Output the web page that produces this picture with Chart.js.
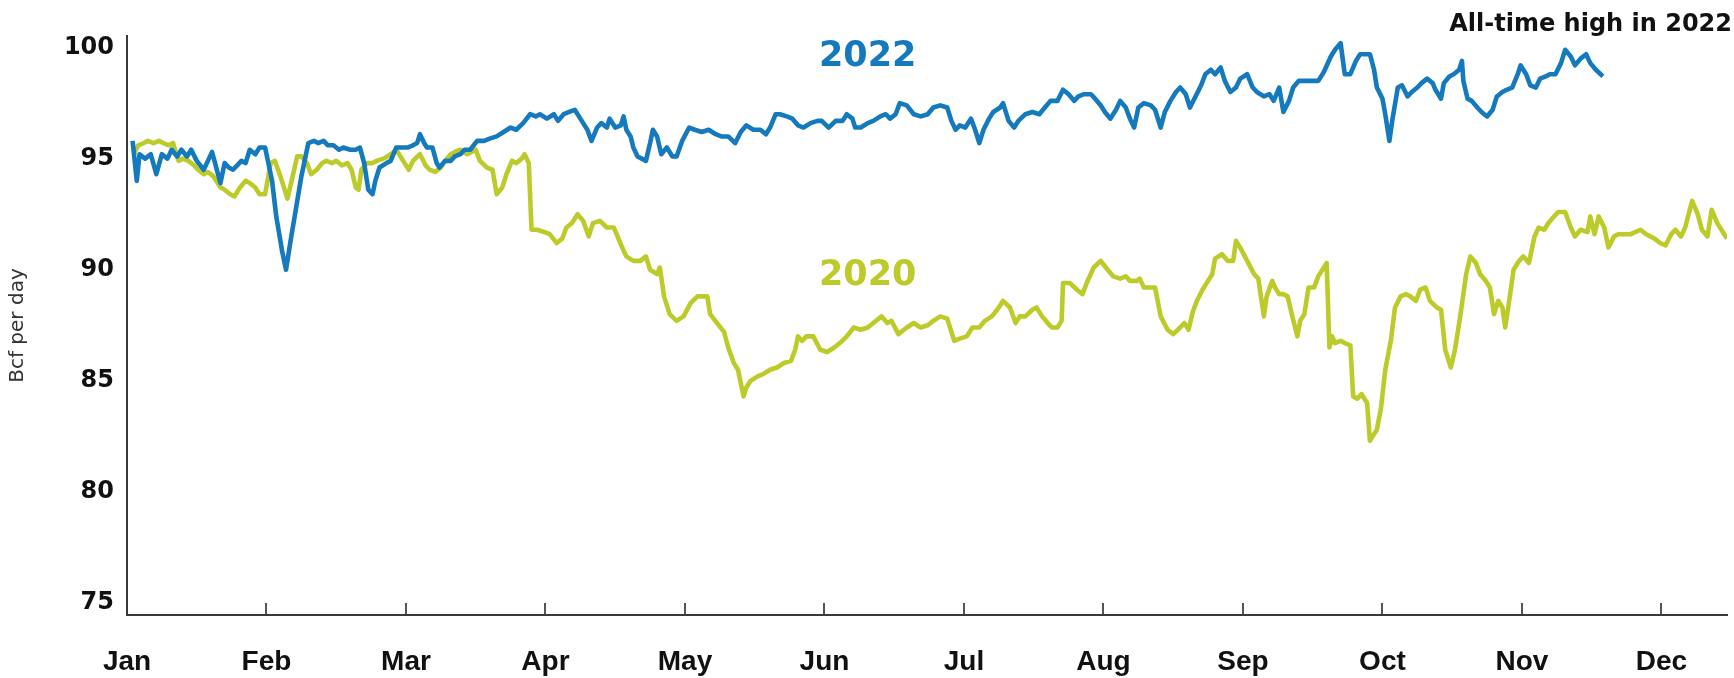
<!DOCTYPE html>
<html>
<head>
<meta charset="utf-8">
<title>Bcf per day, 2022 vs 2020</title>
<script src="https://cdn.jsdelivr.net/npm/chart.js"></script>
<style>
  html, body { margin: 0; padding: 0; background: #fff; overflow: hidden; }
  canvas { display: block; }
</style>
</head>
<body>
<canvas id="chart" width="1734" height="678"></canvas>
<script>
/* axis labels */
const MONTHS = ["Jan","Feb","Mar","Apr","May","Jun","Jul","Aug","Sep","Oct","Nov","Dec"];
const MONTH_TICKS = [0,1,2,3,4,5,6,7,8,9,10,11];
const Y_TICKS = [75,80,85,90,95,100];

/* 2022 series: position in months from Jan 1, value in Bcf/d */
const M22 = [0.04,0.07,0.09,0.13,0.17,0.21,0.25,0.29,0.32,0.36,0.39,0.43,0.46,0.50,0.55,0.58,0.61,0.64,0.67,0.70,
  0.73,0.76,0.79,0.82,0.85,0.88,0.92,0.95,0.99,1.04,1.07,1.11,1.14,1.17,1.21,1.25,1.30,1.34,1.37,1.41,
  1.44,1.48,1.52,1.55,1.60,1.64,1.67,1.70,1.73,1.76,1.78,1.81,1.86,1.89,1.93,1.97,2.01,2.05,2.08,2.10,
  2.13,2.15,2.19,2.22,2.24,2.28,2.32,2.35,2.39,2.42,2.46,2.51,2.56,2.60,2.65,2.70,2.75,2.79,2.84,2.89,
  2.93,2.96,3.01,3.06,3.09,3.13,3.17,3.21,3.25,3.30,3.33,3.37,3.40,3.44,3.46,3.50,3.54,3.56,3.58,3.61,
  3.63,3.66,3.69,3.72,3.75,3.77,3.80,3.83,3.87,3.91,3.94,3.98,4.03,4.07,4.12,4.17,4.22,4.26,4.31,4.36,
  4.40,4.44,4.49,4.54,4.58,4.61,4.65,4.68,4.73,4.77,4.81,4.85,4.90,4.95,4.98,5.03,5.08,5.13,5.16,5.20,
  5.22,5.26,5.31,5.35,5.40,5.44,5.47,5.51,5.54,5.59,5.64,5.69,5.74,5.78,5.83,5.88,5.91,5.94,5.97,6.01,
  6.05,6.08,6.11,6.14,6.18,6.21,6.26,6.28,6.32,6.36,6.39,6.44,6.49,6.54,6.58,6.62,6.67,6.71,6.75,6.79,
  6.82,6.86,6.91,6.94,6.98,7.01,7.05,7.09,7.12,7.16,7.19,7.22,7.25,7.29,7.34,7.37,7.41,7.44,7.48,7.52,
  7.55,7.59,7.62,7.66,7.70,7.73,7.77,7.80,7.84,7.87,7.91,7.95,7.98,8.03,8.07,8.10,8.15,8.19,8.22,8.26,
  8.29,8.33,8.36,8.40,8.45,8.50,8.54,8.58,8.63,8.66,8.70,8.73,8.77,8.81,8.84,8.88,8.91,8.94,8.96,9.00,
  9.02,9.05,9.07,9.11,9.14,9.18,9.21,9.25,9.28,9.32,9.36,9.38,9.42,9.44,9.48,9.51,9.55,9.57,9.58,9.61,
  9.64,9.68,9.71,9.75,9.79,9.82,9.86,9.89,9.93,9.97,9.99,10.03,10.06,10.10,10.13,10.17,10.20,10.24,10.28,10.31,
  10.35,10.38,10.42,10.46,10.49,10.53,10.58];
const V22 = [95.8,94.0,95.2,95.0,95.2,94.3,95.2,95.0,95.4,95.1,95.4,95.1,95.4,94.9,94.5,94.9,95.3,94.6,93.9,94.8,
  94.6,94.5,94.7,94.9,94.8,95.4,95.2,95.5,95.5,94.0,92.4,90.9,90.0,91.2,92.7,94.2,95.7,95.8,95.7,95.8,
  95.6,95.6,95.4,95.5,95.4,95.4,95.5,94.8,93.6,93.4,94.0,94.6,94.8,94.9,95.5,95.5,95.5,95.6,95.7,96.1,
  95.7,95.5,95.5,94.8,94.6,94.9,94.9,95.1,95.2,95.4,95.4,95.8,95.8,95.9,96.0,96.2,96.4,96.3,96.6,97.0,
  96.9,97.0,96.8,97.0,96.7,97.0,97.1,97.2,96.8,96.3,95.8,96.4,96.6,96.4,96.8,96.4,96.5,96.9,96.3,96.0,
  95.5,95.1,95.0,94.9,95.7,96.3,96.0,95.2,95.5,95.1,95.1,95.8,96.4,96.3,96.2,96.3,96.1,96.0,96.0,95.7,
  96.2,96.5,96.3,96.3,96.1,96.4,97.0,97.0,96.9,96.8,96.5,96.4,96.6,96.7,96.7,96.4,96.7,96.7,97.0,96.8,
  96.4,96.4,96.6,96.7,96.9,97.0,96.8,97.0,97.5,97.4,97.0,96.9,97.0,97.3,97.4,97.3,96.7,96.3,96.5,96.4,
  96.8,96.3,95.7,96.3,96.8,97.1,97.3,97.5,96.7,96.4,96.7,97.0,97.1,97.0,97.3,97.6,97.6,98.1,97.9,97.6,
  97.8,97.9,97.9,97.7,97.4,97.1,96.8,97.2,97.6,97.3,96.8,96.4,97.3,97.5,97.4,97.2,96.4,97.1,97.6,98.0,
  98.2,97.9,97.3,97.8,98.3,98.8,99.0,98.8,99.1,98.5,98.0,98.2,98.6,98.8,98.2,98.0,97.8,97.9,97.6,98.2,
  97.1,97.6,98.2,98.5,98.5,98.5,98.5,98.9,99.6,99.9,100.2,98.8,98.8,99.4,99.7,99.7,99.7,99.0,98.2,97.7,
  97.0,95.8,96.7,98.2,98.3,97.8,98.0,98.2,98.4,98.6,98.4,98.1,97.7,98.4,98.7,98.8,99.0,99.4,98.5,97.7,
  97.6,97.3,97.1,96.9,97.2,97.8,98.0,98.1,98.2,98.8,99.2,98.8,98.3,98.2,98.6,98.7,98.8,98.8,99.3,99.9,
  99.6,99.2,99.5,99.7,99.3,99.0,98.7];

/* 2020 series */
const M20 = [0.05,0.08,0.12,0.15,0.19,0.23,0.26,0.30,0.33,0.37,0.40,0.44,0.48,0.51,0.55,0.58,0.62,0.67,0.70,0.74,
  0.77,0.81,0.85,0.88,0.92,0.95,0.99,1.03,1.06,1.10,1.15,1.18,1.22,1.25,1.29,1.32,1.36,1.40,1.43,1.47,
  1.50,1.54,1.58,1.61,1.64,1.66,1.68,1.72,1.76,1.79,1.84,1.89,1.93,1.98,2.02,2.05,2.10,2.14,2.17,2.21,
  2.25,2.28,2.32,2.35,2.39,2.44,2.50,2.53,2.58,2.62,2.65,2.69,2.72,2.76,2.79,2.83,2.85,2.88,2.90,2.94,
  2.99,3.03,3.08,3.12,3.15,3.19,3.23,3.27,3.31,3.34,3.39,3.44,3.49,3.51,3.55,3.58,3.63,3.68,3.72,3.75,
  3.80,3.82,3.85,3.89,3.94,3.99,4.04,4.09,4.13,4.16,4.18,4.23,4.28,4.31,4.35,4.38,4.42,4.44,4.47,4.52,
  4.56,4.61,4.66,4.71,4.76,4.79,4.81,4.84,4.87,4.92,4.97,5.02,5.07,5.11,5.16,5.21,5.26,5.31,5.35,5.41,
  5.45,5.48,5.53,5.59,5.64,5.69,5.74,5.78,5.83,5.88,5.93,5.97,6.02,6.06,6.11,6.15,6.20,6.25,6.28,6.33,
  6.37,6.40,6.44,6.49,6.52,6.56,6.60,6.63,6.67,6.70,6.71,6.76,6.81,6.85,6.88,6.93,6.98,7.03,7.07,7.12,
  7.16,7.19,7.24,7.26,7.29,7.34,7.37,7.41,7.46,7.50,7.55,7.58,7.61,7.64,7.67,7.71,7.74,7.78,7.80,7.85,
  7.89,7.93,7.95,7.98,8.03,8.08,8.11,8.15,8.17,8.21,8.23,8.26,8.29,8.32,8.35,8.39,8.41,8.44,8.47,8.51,
  8.54,8.58,8.60,8.62,8.64,8.66,8.70,8.73,8.77,8.79,8.82,8.85,8.89,8.91,8.94,8.96,8.99,9.02,9.06,9.09,
  9.13,9.17,9.20,9.24,9.27,9.31,9.34,9.39,9.42,9.45,9.49,9.52,9.56,9.60,9.63,9.67,9.70,9.74,9.77,9.80,
  9.83,9.86,9.88,9.92,9.94,9.98,10.01,10.05,10.09,10.12,10.16,10.19,10.23,10.26,10.31,10.35,10.38,10.42,10.47,10.49,
  10.52,10.55,10.59,10.62,10.66,10.69,10.73,10.78,10.85,10.89,10.95,10.99,11.03,11.07,11.10,11.14,11.17,11.22,11.26,11.29,
  11.33,11.36,11.40,11.45,11.47];
const V20 = [95.2,95.6,95.7,95.8,95.7,95.8,95.7,95.6,95.7,94.9,95.0,94.9,94.7,94.5,94.3,94.4,94.2,93.7,93.6,93.4,
  93.3,93.7,94.0,93.9,93.7,93.4,93.4,94.8,94.9,94.2,93.2,94.0,95.1,95.1,94.8,94.3,94.5,94.8,94.9,94.8,
  94.9,94.7,94.8,94.5,93.7,93.6,94.5,94.8,94.8,94.9,95.0,95.2,95.4,94.9,94.5,94.9,95.2,94.7,94.5,94.4,
  94.6,94.9,95.2,95.3,95.4,95.2,95.4,94.9,94.6,94.5,93.4,93.7,94.3,94.9,94.8,95.0,95.2,94.8,91.8,91.8,
  91.7,91.6,91.2,91.4,91.9,92.1,92.5,92.2,91.5,92.1,92.2,91.9,91.9,91.6,91.0,90.6,90.4,90.4,90.6,90.0,
  89.8,90.1,88.8,88.0,87.7,87.9,88.5,88.8,88.8,88.8,88.0,87.6,87.2,86.5,85.8,85.5,84.3,84.7,85.0,85.2,
  85.3,85.5,85.6,85.8,85.9,86.4,87.0,86.8,87.0,87.0,86.4,86.3,86.5,86.7,87.0,87.4,87.3,87.4,87.6,87.9,
  87.6,87.7,87.1,87.4,87.6,87.4,87.5,87.7,87.9,87.8,86.8,86.9,87.0,87.4,87.4,87.7,87.9,88.3,88.6,88.3,
  87.6,87.9,87.9,88.2,88.3,87.9,87.6,87.4,87.4,87.7,89.4,89.4,89.1,88.9,89.4,90.1,90.4,90.0,89.7,89.6,
  89.7,89.5,89.5,89.6,89.2,89.2,89.2,87.9,87.3,87.1,87.4,87.6,87.3,88.1,88.6,89.1,89.4,89.8,90.5,90.7,
  90.4,90.4,91.3,91.0,90.4,89.8,89.6,87.9,88.8,89.5,89.2,88.9,88.9,88.8,88.0,87.0,87.7,88.0,89.2,89.2,
  89.7,90.1,90.3,86.5,87.0,86.7,86.8,86.7,86.6,84.3,84.2,84.4,84.0,82.3,82.6,82.8,83.8,85.5,86.8,88.3,
  88.8,88.9,88.8,88.6,89.1,89.2,88.6,88.3,88.2,86.4,85.6,86.4,88.0,89.8,90.6,90.3,89.8,89.5,89.2,88.0,
  88.6,88.3,87.4,89.1,90.0,90.4,90.6,90.3,91.5,91.9,91.8,92.1,92.4,92.6,92.6,91.9,91.5,91.8,91.7,92.4,
  91.6,92.4,91.9,91.0,91.5,91.6,91.6,91.6,91.8,91.6,91.4,91.2,91.1,91.6,91.8,91.5,91.9,93.1,92.5,91.8,
  91.5,92.7,92.1,91.6,91.4];

const BLUE = "#1479bd";
const LIME = "#bdcb2a";
const INK = "#111111";

/* helpers */
function points(xs, ys){ return xs.map((x, i) => ({ x: x, y: ys[i] })); }

/* series names and the headline, written on top of the plot */
const annotations = {
  id: "annotations",
  afterDatasetsDraw(chart){
    const { ctx, scales: { x, y } } = chart;
    ctx.save();
    ctx.textAlign = "center";
    ctx.textBaseline = "alphabetic";
    ctx.font = "bold 35px 'DejaVu Sans'";
    ctx.fillStyle = BLUE;
    ctx.fillText("2022", x.getPixelForValue(5.31), y.getPixelForValue(99.75) + 12.8);
    ctx.fillStyle = LIME;
    ctx.fillText("2020", x.getPixelForValue(5.31), y.getPixelForValue(89.9) + 12.8);
    ctx.textAlign = "right";
    ctx.font = "bold 24px 'DejaVu Sans'";
    ctx.fillStyle = INK;
    ctx.fillText("All-time high in 2022", chart.width - 2, 30.5);
    ctx.restore();
  }
};

new Chart(document.getElementById("chart"), {
  type: "line",
  data: {
    datasets: [
      { label: "2022", data: points(M22, V22), borderColor: BLUE, borderWidth: 4.6, borderJoinStyle: "round", pointRadius: 0, tension: 0 },
      { label: "2020", data: points(M20, V20), borderColor: LIME, borderWidth: 4.6, borderJoinStyle: "round", pointRadius: 0, tension: 0 }
    ]
  },
  options: {
    responsive: false,
    devicePixelRatio: 1,
    animation: false,
    layout: { padding: { top: 36, right: 7, bottom: 0, left: 0 } },
    plugins: { legend: { display: false }, tooltip: { enabled: false } },
    scales: {
      x: {
        type: "linear",
        min: 0,
        max: 11.47,
        afterBuildTicks: s => { s.ticks = MONTH_TICKS.map(v => ({ value: v })); },
        afterFit: s => { s.height = 63; },
        grid: { drawOnChartArea: false, drawTicks: true, tickLength: -12, color: "#555", lineWidth: 2 },
        border: { color: "#3a3a3a", width: 2 },
        ticks: {
          autoSkip: false, maxRotation: 0, padding: 42, color: INK,
          font: { family: "'Liberation Sans', Arial, sans-serif", size: 28, weight: "bold" },
          callback: v => MONTHS[v]
        }
      },
      y: {
        min: 74.46,
        max: 100.52,
        afterBuildTicks: s => { s.ticks = Y_TICKS.map(v => ({ value: v })); },
        afterFit: s => { s.width = 127; },
        grid: { display: false, drawTicks: false },
        border: { color: "#3a3a3a", width: 2 },
        ticks: {
          padding: 13, color: INK,
          font: { family: "'DejaVu Sans'", size: 24, weight: "bold" }
        },
        title: {
          display: true, text: "Bcf per day", color: "#333",
          padding: { top: 6, bottom: 0 },
          font: { family: "'DejaVu Sans'", size: 20 }
        }
      }
    }
  },
  plugins: [annotations]
});
</script>
</body>
</html>
